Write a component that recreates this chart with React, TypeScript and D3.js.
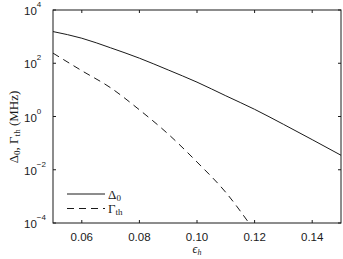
import React from "react";
import * as d3 from "d3";

const eps = [0.05, 0.06, 0.07, 0.08, 0.09, 0.1, 0.11, 0.12, 0.13, 0.14, 0.15];
const delta0 = [1549, 871, 380, 155, 56, 19.5, 6.0, 1.86, 0.51, 0.135, 0.035];
const gammaEps = [0.05, 0.06, 0.07, 0.08, 0.09, 0.1, 0.11, 0.12];
const gammaTh = [240, 52.5, 12.0, 1.78, 0.219, 0.0195, 0.00141, 0.00005];
const xTicks = [0.06, 0.08, 0.1, 0.12, 0.14];
const xTickLabels = ["0.06", "0.08", "0.10", "0.12", "0.14"];
const yTicks = [1e4, 1e2, 1, 1e-2, 1e-4];
const yTickExp = ["4", "2", "0", "\u22122", "\u22124"];

const W = 343, H = 259;
const L = 53, R = 341, T = 10, B = 223;

export default function App() {
  const x = d3.scaleLinear().domain([0.05, 0.15]).range([L, R]);
  const y = d3.scaleLog().domain([1e-4, 1e4]).range([B, T]);
  const line = d3
    .line<[number, number]>()
    .x((d) => x(d[0]))
    .y((d) => y(d[1]))
    .curve(d3.curveMonotoneX);
  const dPath = line(eps.map((e, i) => [e, delta0[i]] as [number, number])) || "";
  const gPath = line(gammaEps.map((e, i) => [e, gammaTh[i]] as [number, number])) || "";
  const ink = "#1a1a1a";
  const sans = "'Liberation Sans', Arial, Helvetica, sans-serif";
  const serif = "'Liberation Serif', 'Times New Roman', serif";
  return (
    <svg
      width={W}
      height={H}
      style={{ position: "absolute", left: 0, top: 0, background: "#fff" }}
    >
      <defs>
        <clipPath id="plotclip">
          <rect x={L} y={T} width={R - L} height={B - T} />
        </clipPath>
      </defs>
      <rect x={0} y={0} width={W} height={H} fill="#fff" />
      <g clipPath="url(#plotclip)" fill="none" stroke={ink} strokeWidth={1}>
        <path d={dPath} />
        <path d={gPath} strokeDasharray="7,5" />
      </g>
      <rect x={L} y={T} width={R - L} height={B - T} fill="none" stroke={ink} strokeWidth={1} />
      {xTicks.map((t, i) => (
        <g key={"xt" + i} stroke={ink} strokeWidth={1}>
          <line x1={x(t)} x2={x(t)} y1={B} y2={B - 3} />
          <line x1={x(t)} x2={x(t)} y1={T} y2={T + 3} />
        </g>
      ))}
      {yTicks.map((t, i) => (
        <g key={"yt" + i} stroke={ink} strokeWidth={1}>
          <line x1={L} x2={L + 3} y1={y(t)} y2={y(t)} />
          <line x1={R} x2={R - 3} y1={y(t)} y2={y(t)} />
        </g>
      ))}
      {xTicks.map((t, i) => (
        <text
          key={"xl" + i}
          x={x(t)}
          y={241}
          textAnchor="middle"
          fontFamily={sans}
          fontSize={11.5}
          fill={ink}
        >
          {xTickLabels[i]}
        </text>
      ))}
      {yTicks.map((t, i) => (
        <text key={"yl" + i} x={24} y={y(t) + 5} fontFamily={sans} fontSize={11.5} fill={ink}>
          10
          <tspan fontSize={8} dy={-8}>
            {yTickExp[i]}
          </tspan>
        </text>
      ))}
      <text
        x={197}
        y={253}
        textAnchor="middle"
        fontFamily={serif}
        fontSize={12}
        fontStyle="italic"
        fill={ink}
      >
        {"\u03F5"}
        <tspan fontSize={8} dy={2}>
          h
        </tspan>
      </text>
      <text
        transform="translate(18,127) rotate(-90)"
        textAnchor="middle"
        fontFamily={serif}
        fontSize={13}
        fill={ink}
      >
        {"\u0394"}
        <tspan fontSize={9} dy={2}>0</tspan>
        <tspan dy={-2}>{", \u0393"}</tspan>
        <tspan fontSize={9} dy={2}>th</tspan>
        <tspan dy={-2}>{" (MHz)"}</tspan>
      </text>
      <g stroke={ink} strokeWidth={1}>
        <line x1={67} x2={105} y1={194} y2={194} />
        <line x1={67} x2={105} y1={208.5} y2={208.5} strokeDasharray="7,5" />
      </g>
      <text x={108} y={198.5} fontFamily={serif} fontSize={13} fill={ink}>
        {"\u0394"}
        <tspan fontSize={9} dy={2}>0</tspan>
      </text>
      <text x={108} y={213} fontFamily={serif} fontSize={13} fill={ink}>
        {"\u0393"}
        <tspan fontSize={9} dy={2}>th</tspan>
      </text>
    </svg>
  );
}
